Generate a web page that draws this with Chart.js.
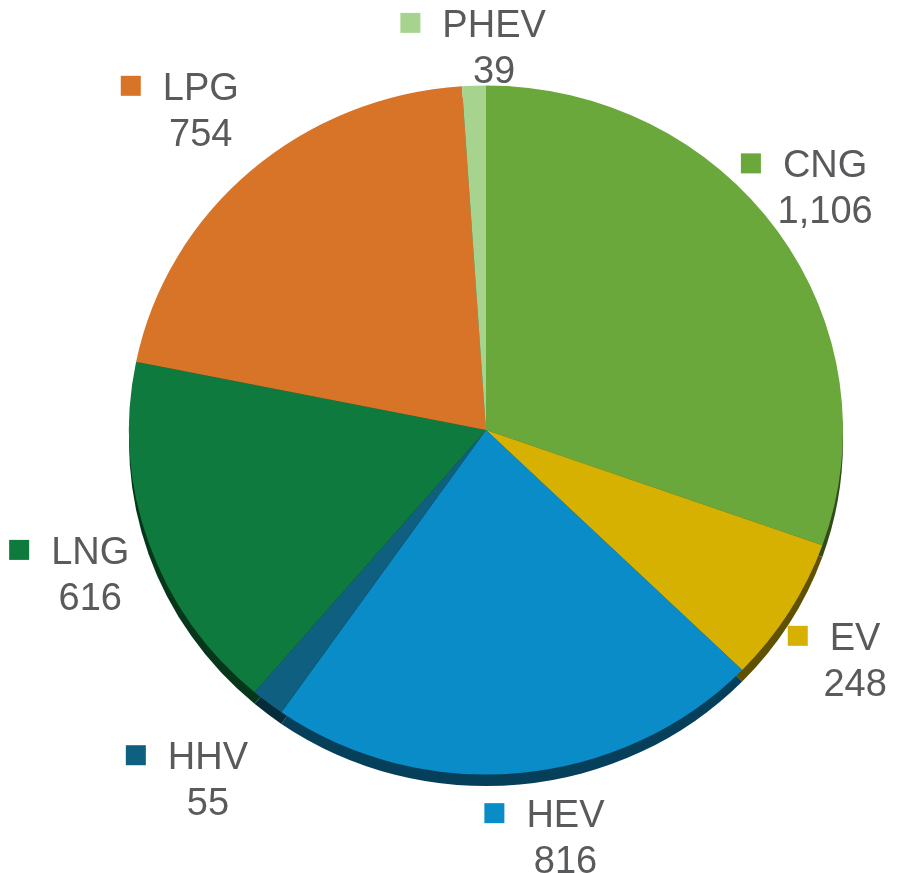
<!DOCTYPE html>
<html>
<head>
<meta charset="utf-8">
<script src="https://cdn.jsdelivr.net/npm/chart.js@4/dist/chart.umd.min.js"></script>
<style>
  html, body { margin: 0; padding: 0; background: #ffffff; }
  #wrap { width: 898px; height: 873px; position: relative; }
</style>
</head>
<body>
<div id="wrap"><canvas id="FuelChart" width="898" height="873"></canvas></div>
<script>
let categories = ['CNG', 'EV', 'HEV', 'HHV', 'LNG', 'LPG', 'PHEV'];
let counts = [1106, 248, 816, 55, 616, 754, 39];
let sliceColors = ['#6ba83b', '#d6b102', '#0a8cc8', '#0e5f80', '#0f7a3d', '#d87428', '#a6d48e'];

// where each outside label sits: distance as a multiple of the radius, and a small turn in degrees
let labelDist = [1.119, 1.170, 1.155, 1.290, 1.236, 1.239, 1.071];
let labelTurn = [-2.0, 1.7, -2.7, 2.8, -0.1, -2.6, 0];

let squash = 0.965;   // the pie is seen a little from above
let rimDepth = 12;

let darken = (hex, f) => {
    let n = parseInt(hex.slice(1), 16);
    let r = Math.round(((n >> 16) & 255) * f);
    let g = Math.round(((n >> 8) & 255) * f);
    let b = Math.round((n & 255) * f);
    return `rgb(${r},${g},${b})`;
};

let tiltPlugin = {
    id: 'tilt',
    beforeDatasetsDraw(chart) {
        let ctx = chart.ctx;
        let arcs = chart.getDatasetMeta(0).data;
        let cy = arcs[0].y;
        ctx.save();
        ctx.translate(0, cy);
        ctx.scale(1, squash);
        ctx.translate(0, -cy);
        // dark rim under the face
        arcs.forEach((arc, i) => {
            let p = arc.getProps(['x', 'y', 'startAngle', 'endAngle', 'outerRadius'], true);
            ctx.beginPath();
            ctx.moveTo(p.x, p.y + rimDepth);
            ctx.arc(p.x, p.y + rimDepth, p.outerRadius, p.startAngle, p.endAngle);
            ctx.closePath();
            ctx.fillStyle = darken(sliceColors[i], 0.45);
            ctx.fill();
        });
    },
    afterDatasetsDraw(chart) {
        chart.ctx.restore();
    }
};

let labelPlugin = {
    id: 'outsideLabels',
    afterDraw(chart) {
        let ctx = chart.ctx;
        let arcs = chart.getDatasetMeta(0).data;
        ctx.save();
        ctx.font = '38px "Liberation Sans", Arial, sans-serif';
        ctx.textBaseline = 'alphabetic';
        arcs.forEach((arc, i) => {
            let p = arc.getProps(['x', 'y', 'startAngle', 'endAngle', 'outerRadius'], true);
            let mid = (p.startAngle + p.endAngle) / 2 + labelTurn[i] * Math.PI / 180;
            let d = p.outerRadius * labelDist[i];
            let cx = p.x + Math.cos(mid) * d;
            let cy = p.y - 2 + Math.sin(mid) * d;

            let name = categories[i];
            let value = counts[i].toLocaleString('en-US');
            let nameW = ctx.measureText(name).width;
            let sq = 20, gap = 22;
            let left = cx - (sq + gap + nameW) / 2;
            let base1 = cy - 36 + 27;
            let base2 = base1 + 46;

            ctx.fillStyle = sliceColors[i];
            ctx.fillRect(left, base1 - 24, sq, sq);

            ctx.fillStyle = '#595a5c';
            ctx.textAlign = 'left';
            ctx.fillText(name, left + sq + gap, base1);
            ctx.textAlign = 'center';
            ctx.fillText(value, left + sq + gap + nameW / 2, base2);
        });
        ctx.restore();
    }
};

let fuelChartCtx = document.getElementById('FuelChart').getContext('2d');

let fuel_chart_controller = new Chart(fuelChartCtx, {
    type: 'pie',
    data: {
        labels: categories,
        datasets: [{
            data: counts,
            backgroundColor: sliceColors,
            borderWidth: 0,
            clip: false
        }]
    },
    options: {
        responsive: false,
        animation: false,
        layout: { padding: { left: 129, right: 55, top: 73, bottom: 86 } },
        plugins: {
            legend: { display: false },
            tooltip: { enabled: false }
        }
    },
    plugins: [tiltPlugin, labelPlugin]
});
</script>
</body>
</html>
